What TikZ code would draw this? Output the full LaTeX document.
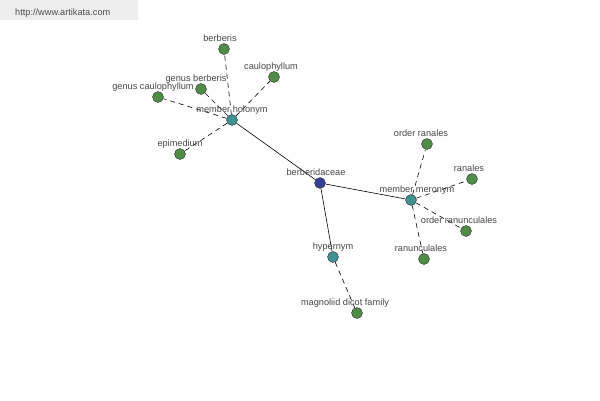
\documentclass[tikz,border=0pt]{standalone}
\usepackage{fontspec}
\setmainfont{Liberation Sans}
\usetikzlibrary{backgrounds}
\definecolor{leafgreen}{RGB}{80,140,70}
\definecolor{relteal}{RGB}{64,145,145}
\definecolor{rootblue}{RGB}{55,62,150}
\definecolor{labgray}{RGB}{70,70,70}
\begin{document}
\begin{tikzpicture}[x=1pt,y=-1pt,
    word/.style ={circle, draw=black!80, thin, inner sep = 0pt, minimum size=11pt},
    leaf/.style ={word, fill=leafgreen},
    relation/.style ={word, fill=relteal},
    root/.style ={word, fill=rootblue},
    link/.style ={line width=0.6pt},
    sublink/.style ={line width=0.6pt, dash pattern=on 5pt off 4pt},
    every label/.style ={font=\fontsize{9.2}{10}\selectfont, text=labgray, inner sep=1pt, text depth=0pt, label distance=1pt}]
   \useasboundingbox (0,0) rectangle (600,400);
   \node[root] (B) [label={[xshift=-4pt]90:berberidaceae}] at (320,183) {};
   \node[relation] (H) [label=90:member holonym] at (232,120) {};
   \node[relation] (M) [label={[xshift=6pt]90:member meronym}] at (411,200) {};
   \node[relation] (Y) [label=90:hypernym] at (333,257) {};
   \node[leaf] (b1) [label={[xshift=-4pt]90:berberis}] at (224,49) {};
   \node[leaf] (b2) [label={[xshift=-3pt]90:caulophyllum}] at (274,77) {};
   \node[leaf] (b3) [label={[xshift=-5pt]90:genus berberis}] at (201,89) {};
   \node[leaf] (b4) [label={[xshift=-5pt]90:genus caulophyllum}] at (158,97) {};
   \node[leaf] (b5) [label=90:epimedium] at (180,154) {};
   \node[leaf] (m1) [label={[xshift=-6pt]90:order ranales}] at (427,144) {};
   \node[leaf] (m2) [label={[xshift=-3pt]90:ranales}] at (472,179) {};
   \node[leaf] (m3) [label={[xshift=-7pt]90:order ranunculales}] at (466,231) {};
   \node[leaf] (m4) [label={[xshift=-3pt]90:ranunculales}] at (424,259) {};
   \node[leaf] (y1) [label={[xshift=-12pt]90:magnoliid dicot family}] at (357,313) {};
   \begin{scope}[on background layer]
     \fill[black!7] (0,0) rectangle (138,20);
     \node[font=\fontsize{9.2}{10}\selectfont, text=black!70, anchor=base west, inner sep=0pt] (url) at (15,15) {http://www.artikata.com};
     \draw[link] (B) to (H);
     \draw[link] (B) to (M);
     \draw[link] (B) to (Y);
     \foreach \n in {b1,b2,b3,b4,b5} \draw[sublink] (H) to (\n);
     \foreach \n in {m1,m2,m3,m4} \draw[sublink] (M) to (\n);
     \draw[sublink] (Y) to (y1);
   \end{scope}
\end{tikzpicture}
\end{document}
